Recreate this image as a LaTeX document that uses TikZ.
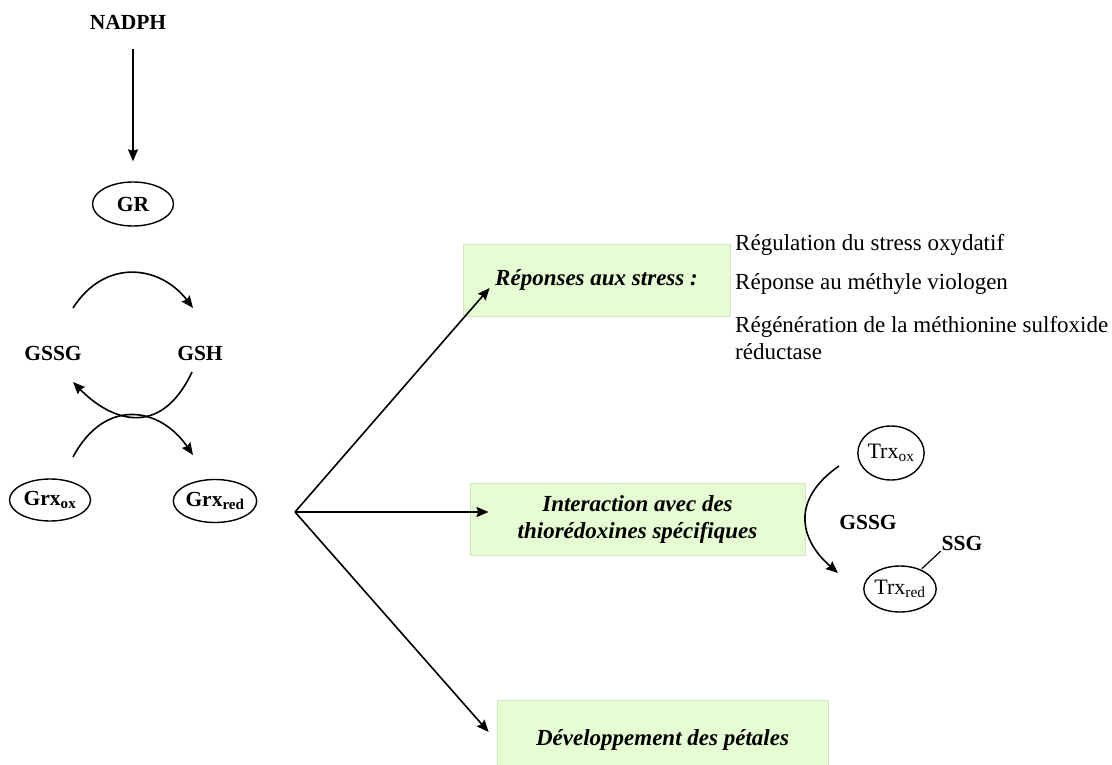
\documentclass[tikz,border=0pt]{standalone}
\usepackage{fontspec}
\setmainfont{Liberation Serif}
\usetikzlibrary{arrows.meta,shapes.geometric}
\definecolor{boxfill}{RGB}{230,252,210}
\definecolor{boxline}{RGB}{208,232,192}
\begin{document}
\begin{tikzpicture}[x=1pt,y=-1pt,
  lbl/.style={font=\fontsize{21.5}{25}\selectfont\bfseries, inner sep=0pt},
  rtxt/.style={font=\fontsize{23}{24}\selectfont, inner sep=0pt, anchor=west},
  oval/.style={draw, ellipse, line width=1.4pt, inner sep=0pt},
  gbox/.style={draw=boxline, fill=boxfill, line width=0.8pt, inner sep=0pt,
    font=\fontsize{23}{28}\selectfont\bfseries\itshape, align=center},
  arr/.style={line width=1.6pt, -{Stealth[length=12pt,width=10pt,inset=1.5pt]}},
  ln/.style={line width=1.3pt}]
\useasboundingbox (0,0) rectangle (1112,765);

% left column
\node[lbl] (nadph) at (128,22) {NADPH};
\node[oval, lbl, minimum width=81pt, minimum height=44pt] (gr) at (133,204) {GR};
\draw[arr, shorten <=20pt, shorten >=20pt] (nadph.south -| gr) -- (gr.north);

\node[lbl] (gssg) at (53,353) {GSSG};
\node[lbl] (gsh) at (200,353) {GSH};

\node[oval, lbl, minimum width=81pt, minimum height=42pt] (grxox) at (50,500) {Grx\textsubscript{ox}};
\node[oval, lbl, minimum width=78pt, minimum height=43pt] (grxred) at (215,501) {Grx\textsubscript{red}};

\coordinate (a1) at (73,308);
\coordinate (a2) at (193,308);
\draw[arr] (a1) .. controls (105,258) and (160,265) .. (a2);

\coordinate (b1) at (192,372);
\coordinate (b2) at (73,382);
\draw[arr] (b1) .. controls (160,440) and (110,420) .. (b2);

\coordinate (c1) at (73,457);
\coordinate (c2) at (193,455);
\draw[arr] (c1) .. controls (105,397) and (160,407) .. (c2);

% fan
\coordinate (apex) at (295,512);
\node[gbox, minimum width=267pt, minimum height=72pt] (box1) at (596.5,280) {Réponses aux stress :};
\node[gbox, minimum width=335pt, minimum height=72pt] (box2) at (637.5,519) {Interaction avec des\\[-1pt]thiorédoxines spécifiques};
\node[gbox, minimum width=331pt, minimum height=80pt] (box3) at (662.5,740) {Développement des pétales};

\draw[arr] (apex) -- ([xshift=27pt,yshift=-8pt]box1.west);
\draw[arr] (apex) -- ([xshift=19pt,yshift=7pt]box2.west);
\draw[arr] (apex) -- ([xshift=-8pt,yshift=8pt]box3.west);

% right texts
\node[rtxt] (t1) at (735,245) {Régulation du stress oxydatif};
\node[rtxt] (t2) at (735,284) {Réponse au méthyle viologen};
\node[rtxt] (t3) at (735,327) {Régénération de la méthionine sulfoxide};
\node[rtxt] (t4) at (735,352) {réductase};

% Trx cycle
\node[oval, minimum width=66pt, minimum height=54pt, font=\fontsize{22}{24}\selectfont] (trxox) at (891,453) {Trx\textsubscript{ox}};
\node[oval, minimum width=64pt, minimum height=46pt, font=\fontsize{22}{24}\selectfont] (trxred) at (900,589) {Trx\textsubscript{red}};
\node[lbl] (gssg2) at (868,522) {GSSG};
\node[lbl] (ssg) at (962,543) {SSG};
\coordinate (d1) at (839,466);
\coordinate (d2) at (838,573);
\draw[arr] (d1) .. controls (790,500) and (800,540) .. (d2);
\draw[line width=1.2pt, shorten <=1pt, shorten >=1pt] (ssg.south west) -- (trxred);
\end{tikzpicture}
\end{document}
